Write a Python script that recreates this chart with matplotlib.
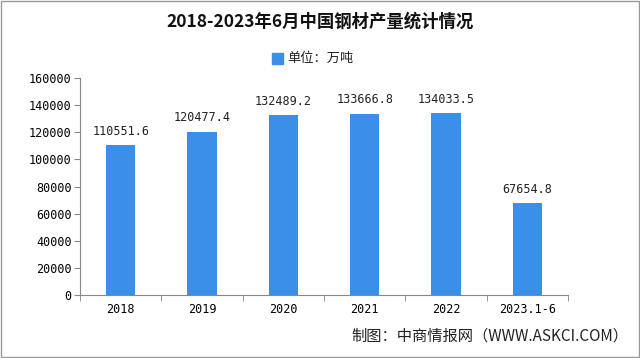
import matplotlib
matplotlib.use("Agg")
import matplotlib.pyplot as plt
from matplotlib.patches import Rectangle

plt.rcParams["font.family"] = ["Noto Sans CJK SC", "DejaVu Sans"]

categories = ["2018", "2019", "2020", "2021", "2022", "2023.1-6"]
output = [110551.6, 120477.4, 132489.2, 133666.8, 134033.5, 67654.8]
yticks = [0, 20000, 40000, 60000, 80000, 100000, 120000, 140000, 160000]

BAR = "#3b8fe9"
AXIS = "#888888"

fig = plt.figure(figsize=(6.4, 3.58), dpi=100)
W, H = 640, 358
ax = fig.add_axes([80 / W, 1 - 295 / H, 488 / W, (295 - 78) / H])

xs = list(range(len(categories)))
ax.bar(xs, output, width=0.36, color=BAR, zorder=2)
for x, v in zip(xs, output):
    ax.text(x, v + 5500, f"{v:.1f}", ha="center", va="bottom",
            fontsize=8.5, family="DejaVu Sans Mono", color="#222222")

ax.set_xlim(-0.5, len(categories) - 0.5)
ax.set_ylim(0, 160000)
ax.set_yticks(yticks)
ax.set_yticklabels([str(t) for t in yticks], fontsize=8.5, family="DejaVu Sans Mono")
ax.set_xticks(xs)
ax.set_xticklabels(categories, fontsize=8.5, family="DejaVu Sans Mono")
ax.tick_params(axis="x", length=0, pad=6)
ax.tick_params(axis="y", length=4, color=AXIS, pad=2)
ax.set_xticks([x - 0.5 for x in xs] + [len(xs) - 0.5], minor=True)
ax.tick_params(axis="x", which="minor", length=4, color=AXIS)
for s in ("top", "right"):
    ax.spines[s].set_visible(False)
for s in ("left", "bottom"):
    ax.spines[s].set_color(AXIS)

fig.text(0.5, 1 - 22 / H, "2018-2023年6月中国钢材产量统计情况", ha="center", va="center",
         fontsize=12.5, fontweight="bold", color="#111111")
fig.patches.append(Rectangle((272 / W, 1 - 64 / H), 11 / W, 11 / H, transform=fig.transFigure,
                             color=BAR))
fig.text(287 / W, 1 - 58 / H, "单位：万吨", ha="left", va="center", fontsize=9.5, color="#222222")
fig.text(628 / W, 1 - 336 / H, "制图：中商情报网（WWW.ASKCI.COM）", ha="right", va="center",
         fontsize=11, color="#222222")
fig.patches.append(Rectangle((0.002, 0.002), 0.996, 0.996, transform=fig.transFigure,
                             fill=False, edgecolor="#999999", linewidth=1))

fig.savefig("out.png", dpi=100)
